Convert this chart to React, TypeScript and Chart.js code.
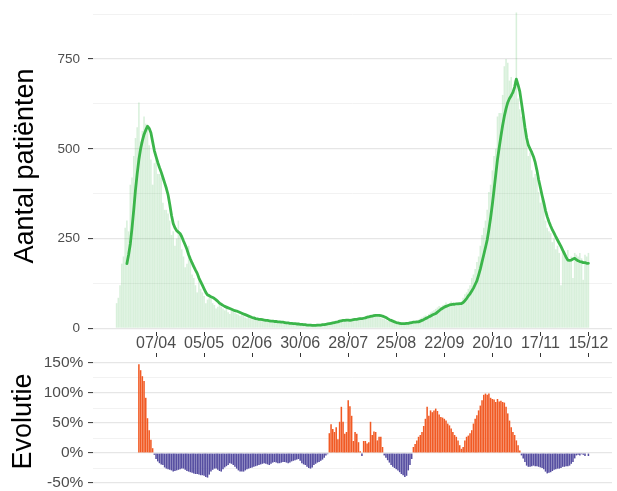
import React, { useEffect, useRef } from "react";
import { Chart, registerables } from "chart.js";

Chart.register(...registerables);

// Day 0 = 15/03 (2020). One bar per day.
const TICK_DAYS = [23, 51, 79, 107, 135, 163, 191, 219, 247, 275];
const TICK_LABELS = ["07/04", "05/05", "02/06", "30/06", "28/07", "25/08", "22/09", "20/10", "17/11", "15/12"];

const Y_TOP_TICKS = [0, 125, 250, 375, 500, 625, 750, 875];
const Y_BOTTOM_TICKS = [-50, -25, 0, 25, 50, 75, 100, 125, 150];

// daily number of patients, days 0..275
const ADMISSIONS = [
  70, 85, 120, 180, 200, 280, 300, 270, 400, 420,
  480, 530, 560, 629, 520, 550, 590, 570, 560, 510,
  470, 400, 460, 470, 430, 430, 420, 350, 330, 330,
  320, 300, 260, 270, 230, 250, 300, 260, 220, 200,
  170, 180, 230, 190, 150, 140, 120, 100, 140, 110,
  100, 90, 70, 80, 90, 85, 70, 65, 55, 60,
  75, 60, 55, 50, 58, 45, 40, 52, 48, 44,
  40, 38, 35, 42, 36, 30, 28, 33, 30, 25,
  27, 24, 22, 28, 25, 20, 18, 24, 22, 19,
  17, 21, 19, 15, 16, 20, 18, 14, 13, 16,
  15, 12, 14, 13, 11, 10, 12, 11, 9, 8,
  10, 9, 7, 8, 9, 7, 8, 10, 9, 11,
  12, 10, 14, 13, 15, 17, 14, 18, 20, 16,
  22, 24, 19, 25, 21, 23, 26, 20, 24, 28,
  25, 27, 30, 26, 29, 33, 35, 31, 38, 34,
  40, 36, 32, 35, 30, 27, 28, 24, 20, 22,
  18, 16, 14, 15, 12, 13, 14, 12, 15, 13,
  16, 18, 17, 20, 19, 22, 24, 27, 30, 33,
  36, 35, 40, 44, 47, 50, 54, 58, 62, 60,
  64, 66, 72, 68, 62, 75, 70, 65, 64, 72,
  70, 68, 85, 95, 100, 110, 120, 140, 150, 165,
  185, 200, 230, 260, 280, 300, 330, 380, 400, 440,
  480, 500, 590, 600, 600, 650, 730, 750, 740, 690,
  700, 650, 690, 880, 640, 610, 590, 600, 560, 520,
  480, 490, 440, 420, 430, 420, 380, 350, 360, 340,
  300, 280, 270, 265, 240, 250, 220, 230, 210, 120,
  220, 215, 200, 218, 190, 200, 140, 210, 205, 200,
  210, 195, 135, 205, 200, 210,
];

// 7-day average line, days 6..275
const AVG_START = 6;
const AVG = [
  180, 205, 235, 280,
  330, 385, 430, 470, 500, 522, 540, 552, 563, 557,
  545, 520, 495, 478, 462, 448, 435, 420, 405, 390,
  372, 345, 315, 292, 280, 272, 268, 264, 255, 243,
  232, 220, 205, 193, 182, 172, 162, 153, 140, 130,
  120, 110, 100, 93, 91, 88, 86, 83, 79, 75,
  70, 67, 64, 61, 59, 57, 55, 53, 51, 49,
  48, 46, 44, 42, 40, 38, 36, 34, 32, 30,
  29, 27, 26, 25, 25, 24, 23, 22, 22, 21,
  20, 20, 19, 19, 18, 18, 17, 17, 16, 15,
  15, 14, 14, 13, 13, 12, 12, 11, 11, 10,
  10, 9, 9, 9, 8, 8, 8, 9, 9, 9,
  10, 10, 11, 12, 13, 14, 15, 16, 17, 18,
  20, 21, 22, 22, 23, 23, 22, 23, 24, 25,
  25, 26, 27, 27, 28, 29, 31, 32, 33, 34,
  35, 36, 36, 36, 35, 34, 32, 30, 27, 24,
  22, 20, 18, 16, 15, 14, 13, 13, 13, 14,
  14, 15, 16, 17, 17, 18, 18, 20, 22, 24,
  27, 29, 32, 34, 37, 39, 41, 45, 49, 53,
  56, 59, 61, 63, 65, 66, 67, 67, 68, 68,
  69, 69, 72, 77, 83, 90, 96, 104, 112, 122,
  132, 148, 165, 185, 205, 225, 246, 275, 308, 345,
  386, 428, 470, 503, 535, 565, 591, 612, 629, 640,
  648, 657, 672, 694, 678, 660, 628, 595, 560, 530,
  510, 500, 490, 478, 462, 440, 414, 392, 370, 350,
  328, 311, 297, 285, 274, 265, 255, 246, 237, 228,
  218, 208, 198, 190, 189, 190, 193, 195, 191, 188,
  186, 185, 183, 183, 181, 181,
];

// evolution in %, days 13..275
const EVO_START = 13;
const EVOLUTION = [
  148, 138, 128, 120, 92, 58, 38,
  22, 8, -3, -10, -14, -17, -19, -20, -24, -26,
  -27, -28, -29, -31, -30, -29, -28, -27, -26, -26,
  -28, -30, -31, -32, -33, -34, -35, -35, -36, -37,
  -37, -38, -40, -41, -36, -31, -28, -26, -26, -28,
  -30, -31, -27, -24, -22, -20, -17, -18, -20, -23,
  -26, -29, -31, -31, -31, -29, -27, -26, -25, -24,
  -23, -22, -21, -20, -19, -18, -17, -18, -19, -20,
  -18, -16, -15, -16, -17, -17, -16, -15, -15, -16,
  -17, -16, -14, -13, -12, -11, -10, -13, -17, -19,
  -20, -23, -25, -26, -24, -20, -18, -16, -15, -13,
  -11, -8, -4, -2, 33, 48, 40, 35, 43, 23,
  52, 77, 52, 32, 35, 88, 78, 62, 20, 35,
  32, 18, 3, -5, 20, 20, 16, 18, 52, 30,
  36, 35, 21, 27, 27, 10, -4, -8, -12, -16,
  -20, -23, -25, -27, -29, -32, -35, -37, -40, -38,
  -29, -20, -10, 10, 15, 21, 27, 30, 35, 45,
  57, 77, 62, 71, 68, 71, 74, 70, 64, 60,
  59, 57, 54, 49, 46, 41, 35, 30, 27, 21,
  13, 7, 10, 21, 27, 29, 33, 38, 49, 57,
  63, 71, 79, 88, 97, 99, 97, 99, 92, 90,
  89, 85, 90, 86, 87, 85, 84, 77, 66, 54,
  43, 35, 30, 21, 13, 4, -4, -9, -15, -21,
  -23, -23, -22, -21, -22, -22, -23, -24, -25, -27,
  -31, -34, -33, -32, -30, -28, -27, -26, -26, -25,
  -23, -23, -22, -22, -21, -18, -15, -9, -4, -3,
  -4, -2, -3, -5, -1, -5,
];

const FONT = "'Liberation Sans', Arial, Helvetica, sans-serif";
const X_MIN = -13.75;
const X_MAX = 288.75;
const GREEN_LINE = "#3bb54a";
const GREEN_BAR = "rgba(60,180,75,0.2)";
const ORANGE = "#f15a24";
const PURPLE = "#564ea1";
const TICK_LABEL_COLOR = "#4d4d4d";
const TICK_COLOR = "#333333";

export default function App() {
  const topRef = useRef<HTMLCanvasElement | null>(null);
  const botRef = useRef<HTMLCanvasElement | null>(null);

  useEffect(() => {
    if (!topRef.current || !botRef.current) return;

    const top = new Chart(topRef.current, {
      type: "bar",
      data: {
        datasets: [
          {
            type: "line",
            data: AVG.map((v, i) => ({ x: AVG_START + i, y: v })),
            borderColor: GREEN_LINE,
            borderWidth: 2.8,
            pointRadius: 0,
            tension: 0,
            borderJoinStyle: "round",
            borderCapStyle: "round",
            order: 0,
          } as any,
          {
            type: "bar",
            data: ADMISSIONS.map((v, i) => ({ x: i, y: v })),
            backgroundColor: GREEN_BAR,
            barPercentage: 0.9,
            categoryPercentage: 1,
            borderWidth: 0,
            order: 1,
          } as any,
        ],
      },
      options: {
        responsive: false,
        animation: false,
        layout: { padding: { left: 0, right: 5, top: 0, bottom: 0 } },
        plugins: { legend: { display: false }, tooltip: { enabled: false } },
        scales: {
          x: {
            type: "linear",
            min: X_MIN,
            max: X_MAX,
            offset: false,
            position: "bottom",
            afterBuildTicks: (s: any) => {
              s.ticks = TICK_DAYS.map((v) => ({ value: v }));
            },
            ticks: { display: false, autoSkip: false },
            grid: {
              offset: false,
              drawOnChartArea: false,
              drawTicks: true,
              tickLength: 4,
              tickColor: TICK_COLOR,
              tickWidth: 1,
            },
            border: { display: false },
            afterFit: (s: any) => {
              s.height = 4;
              s.paddingLeft = 0;
              s.paddingRight = 0;
            },
          } as any,
          y: {
            type: "linear",
            min: -10.3,
            max: 914.5,
            afterBuildTicks: (s: any) => {
              s.ticks = Y_TOP_TICKS.map((v) => ({ value: v }));
            },
            ticks: {
              autoSkip: false,
              color: TICK_LABEL_COLOR,
              font: { family: FONT, size: 13.5 },
              padding: 8,
              callback: (v: any) => (Number(v) % 250 === 0 ? String(v) : ""),
            },
            grid: {
              color: (ctx: any) =>
                ctx.tick && ctx.tick.value % 250 === 0 ? "#e6e6e6" : "#f1f1f1",
              lineWidth: (ctx: any) => (ctx.tick && ctx.tick.value % 250 === 0 ? 1.2 : 0.9),
              tickColor: (ctx: any) =>
                ctx.tick && ctx.tick.value % 250 === 0 ? TICK_COLOR : "rgba(0,0,0,0)",
              tickLength: 5,
              tickWidth: 1,
            },
            border: { display: false },
            title: {
              display: true,
              text: "Aantal patiënten",
              color: "#000000",
              font: { family: FONT, size: 27 },
              padding: { top: 9, bottom: 0 },
            },
            afterFit: (s: any) => {
              s.width = 93;
              s.paddingTop = 0;
              s.paddingBottom = 0;
            },
          } as any,
        },
      } as any,
    });

    const bottom = new Chart(botRef.current, {
      type: "bar",
      data: {
        datasets: [
          {
            data: EVOLUTION.map((v, i) => ({ x: EVO_START + i, y: v })),
            backgroundColor: (ctx: any) =>
              ctx.parsed && ctx.parsed.y < 0 ? PURPLE : ORANGE,
            barPercentage: 0.9,
            categoryPercentage: 1,
            borderWidth: 0,
          } as any,
        ],
      },
      options: {
        responsive: false,
        animation: false,
        layout: { padding: { left: 0, right: 5, top: 0, bottom: 5 } },
        plugins: { legend: { display: false }, tooltip: { enabled: false } },
        scales: {
          x: {
            type: "linear",
            min: X_MIN,
            max: X_MAX,
            offset: false,
            position: "top",
            afterBuildTicks: (s: any) => {
              s.ticks = TICK_DAYS.map((v) => ({ value: v }));
            },
            ticks: {
              autoSkip: false,
              maxRotation: 0,
              padding: 0,
              color: TICK_LABEL_COLOR,
              font: { family: FONT, size: 16 },
              callback: (v: any) => {
                const i = TICK_DAYS.indexOf(Number(v));
                return i >= 0 ? TICK_LABELS[i] : "";
              },
            },
            grid: {
              offset: false,
              drawOnChartArea: false,
              drawTicks: true,
              tickLength: 4,
              tickColor: TICK_COLOR,
              tickWidth: 1,
            },
            border: { display: false },
            afterFit: (s: any) => {
              s.height = 21;
              s.paddingLeft = 0;
              s.paddingRight = 0;
            },
          } as any,
          y: {
            type: "linear",
            min: -55,
            max: 160,
            afterBuildTicks: (s: any) => {
              s.ticks = Y_BOTTOM_TICKS.map((v) => ({ value: v }));
            },
            ticks: {
              autoSkip: false,
              color: TICK_LABEL_COLOR,
              font: { family: FONT, size: 15.5 },
              padding: 4.7,
              callback: (v: any) => (Number(v) % 50 === 0 ? `${v}%` : ""),
            },
            grid: {
              color: (ctx: any) =>
                ctx.tick && ctx.tick.value % 50 === 0 ? "#e6e6e6" : "#f1f1f1",
              lineWidth: (ctx: any) => (ctx.tick && ctx.tick.value % 50 === 0 ? 1.2 : 0.9),
              tickColor: (ctx: any) =>
                ctx.tick && ctx.tick.value % 50 === 0 ? TICK_COLOR : "rgba(0,0,0,0)",
              tickLength: 5,
              tickWidth: 1,
            },
            border: { display: false },
            title: {
              display: true,
              text: "Evolutie",
              color: "#000000",
              font: { family: FONT, size: 27 },
              padding: { top: 7.5, bottom: 0 },
            },
            afterFit: (s: any) => {
              s.width = 93;
              s.paddingTop = 0;
              s.paddingBottom = 0;
            },
          } as any,
        },
      } as any,
    });

    return () => {
      top.destroy();
      bottom.destroy();
    };
  }, []);

  return (
    <div
      style={{
        position: "fixed",
        left: 0,
        top: 0,
        width: 617,
        height: 491,
        background: "#ffffff",
        overflow: "hidden",
      }}
    >
      <canvas
        ref={topRef}
        width={617}
        height={336}
        style={{ position: "absolute", left: 0, top: 0, width: 617, height: 336 }}
      />
      <canvas
        ref={botRef}
        width={617}
        height={155}
        style={{ position: "absolute", left: 0, top: 336, width: 617, height: 155 }}
      />
    </div>
  );
}
